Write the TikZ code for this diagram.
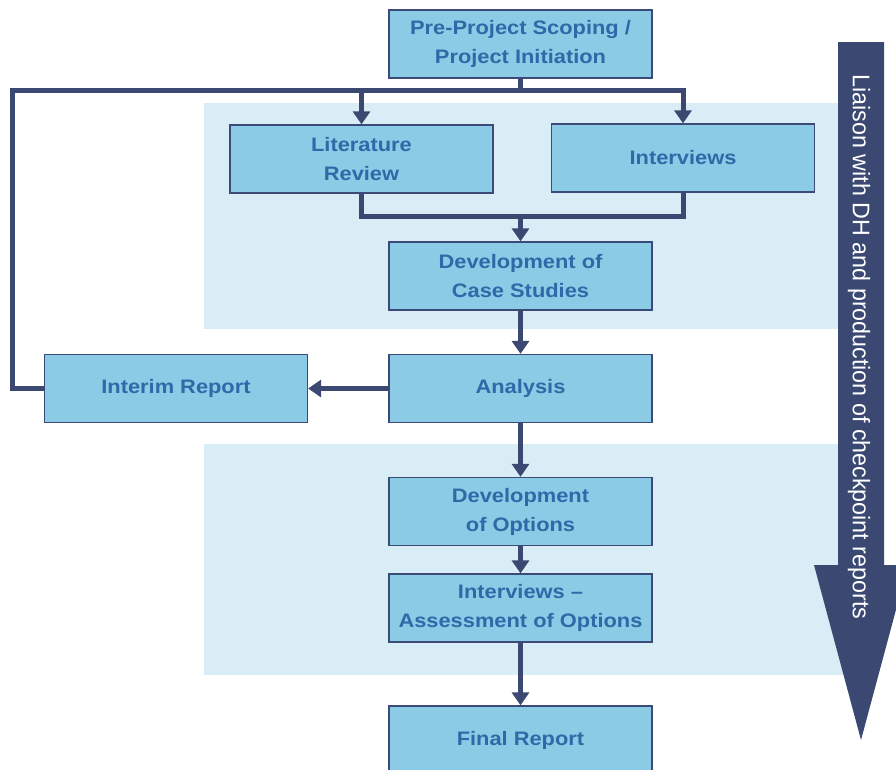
\documentclass[tikz,border=0pt]{standalone}
\usepackage{fontspec}
\setmainfont{Liberation Sans}
\newfontfamily\boxfont[FakeStretch=1.12]{Liberation Sans}
\newfontfamily\arrowfont[FakeStretch=0.97]{Liberation Sans}
\usetikzlibrary{arrows.meta}
\definecolor{boxfill}{RGB}{140,203,230}
\definecolor{boxline}{RGB}{60,74,120}
\definecolor{boxtext}{RGB}{46,105,168}
\definecolor{bgfill}{RGB}{216,237,246}
\definecolor{connc}{RGB}{58,72,114}
\tikzset{
  stage/.style={draw=boxline, line width=1.3pt, fill=boxfill, minimum width=263pt, minimum height=68pt,
    inner sep=0pt, align=center, text=boxtext, font=\boxfont\bfseries\fontsize{19.5}{29}\selectfont},
  conn/.style={draw=connc, line width=5pt},
  arr/.style={conn, -{Triangle[width=17pt,length=13pt]}},
}
\newcommand{\lowtext}[1]{\raisebox{-2.5pt}{#1}}
\begin{document}
\begin{tikzpicture}[x=1pt,y=-1pt]
\useasboundingbox (0,0) rectangle (896,769);
% backgrounds
\fill[bgfill] (204,103) rectangle (845,329);
\fill[bgfill] (204,444) rectangle (845,675);
% big arrow
\fill[connc] (838,42) -- (884,42) -- (884,565) -- (908,565) -- (861,740) -- (814,565) -- (838,565) -- cycle;
\node[rotate=-90, text=white, font=\arrowfont\fontsize{24}{26}\selectfont, inner sep=0pt] (liaison) at (859,347) {Liaison with DH and production of checkpoint reports};
% nodes
\node[stage] (top) at (520.5,44) {Pre-Project Scoping /\\Project Initiation};
\node[stage] (lit) at (361.5,159) {Literature\\Review};
\node[stage] (int) at (683,158) {\lowtext{Interviews}};
\node[stage] (dcs) at (520.5,276) {Development of\\Case Studies};
\node[stage] (ana) at (520.5,388.5) {\lowtext{Analysis}};
\node[stage] (irep) at (176,388.5) {\lowtext{Interim Report}};
\node[stage] (dopt) at (520.5,511.5) {Development\\of Options};
\node[stage] (iass) at (520.5,608) {Interviews –\\Assessment of Options};
\node[stage] (frep) at (520.5,740) {\lowtext{Final Report}};
% connectors
\coordinate (L) at (12,90);
\coordinate (M) at (0,216);
\draw[conn] (top.south) -- (top.south |- L);
\draw[arr] (irep.west) -- (irep.west -| L) -- (L) -| (int.north);
\draw[arr] (lit.north |- L) -- (lit.north);
\draw[conn] (lit.south) |- (int.south |- M) -- (int.south);
\draw[arr] (dcs.north |- M) -- (dcs.north);
\draw[arr] (dcs.south) -- (ana.north);
\draw[arr] (ana.west) -- (irep.east);
\draw[arr] (ana.south) -- (dopt.north);
\draw[arr] (dopt.south) -- (iass.north);
\draw[arr] (iass.south) -- (frep.north);
\end{tikzpicture}
\end{document}
